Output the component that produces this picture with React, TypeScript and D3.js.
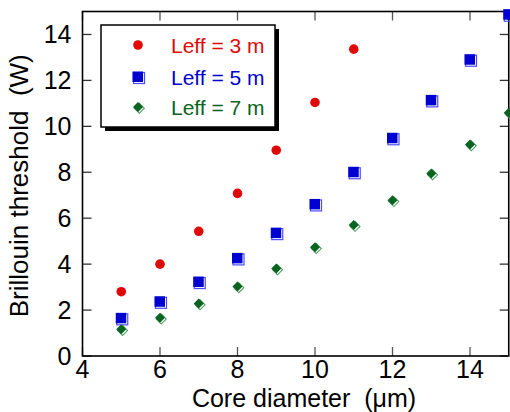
import React from 'react';
import * as d3 from 'd3';

const coreDiameter = [5, 6, 7, 8, 9, 10, 11, 12, 13, 14, 15];
const leff3 = [2.8, 4.0, 5.43, 7.08, 8.96, 11.04, 13.36];
const leff5 = [1.64, 2.36, 3.22, 4.25, 5.35, 6.6, 8.0, 9.48, 11.13, 12.9, 14.86];
const leff7 = [1.17, 1.67, 2.29, 3.03, 3.81, 4.74, 5.7, 6.78, 7.95, 9.21, 10.59];
const xTicks = [4, 6, 8, 10, 12, 14];
const yTicks = [0, 2, 4, 6, 8, 10, 12, 14];
const legendLabels = ['Leff = 3 m', 'Leff = 5 m', 'Leff = 7 m'];

const RED = '#e00808';
const BLUE = '#0000d0';
const GREEN = '#086420';
const FONT = 'Liberation Sans, Arial, sans-serif';

const width = 510;
const height = 412;
const margin = { left: 82.5, right: 1.25, top: 11.5, bottom: 56 };

const Circle = ({ cx, cy }: { cx: number; cy: number }) => (
  <circle cx={cx} cy={cy} r={4.8} fill={RED} />
);

const Square = ({ cx, cy }: { cx: number; cy: number }) => (
  <g>
    <rect x={cx - 4.5} y={cy - 4.5} width={11} height={11} fill="none" stroke="#4d4dff" strokeWidth={1.2} />
    <rect x={cx - 5.5} y={cy - 5.5} width={10.5} height={10.5} fill={BLUE} />
  </g>
);

const Diamond = ({ cx, cy }: { cx: number; cy: number }) => {
  const d = d3.symbol().type(d3.symbolSquare).size(50)() as string;
  return (
    <g>
      <path d={d} transform={`translate(${cx + 1.3},${cy + 1.3}) rotate(45)`} fill="none" stroke="#4a9a5a" strokeWidth={1} />
      <path d={d} transform={`translate(${cx},${cy}) rotate(45)`} fill={GREEN} />
    </g>
  );
};

export default function App() {
  const x = d3.scaleLinear().domain([4, 15]).range([margin.left, width - margin.right]);
  const y = d3.scaleLinear().domain([0, 15]).range([height - margin.bottom, margin.top]);
  const [x0, x1] = x.range();
  const [y0, y1] = y.range();
  const tickLen = 9;

  return (
    <svg width={width} height={height} style={{ position: 'absolute', left: 0, top: 0, background: '#fff' }} fontFamily={FONT}>
      {/* ticks on all four sides */}
      {xTicks.map((t) => (
        <g key={'x' + t} stroke="#555" strokeWidth={1.3}>
          <line x1={x(t)} x2={x(t)} y1={y0} y2={y0 - tickLen} />
          <line x1={x(t)} x2={x(t)} y1={y1} y2={y1 + tickLen} />
        </g>
      ))}
      {yTicks.map((t) => (
        <g key={'y' + t} stroke="#333" strokeWidth={1.3}>
          <line x1={x0} x2={x0 + tickLen} y1={y(t)} y2={y(t)} />
          <line x1={x1} x2={x1 - tickLen} y1={y(t)} y2={y(t)} />
        </g>
      ))}
      <rect x={x0} y={y1} width={x1 - x0} height={y0 - y1} fill="none" stroke="#000" strokeWidth={1.6} />

      {/* tick labels */}
      {xTicks.map((t) => (
        <text key={'xl' + t} x={x(t)} y={y0 + 22} fontSize={25} textAnchor="middle">{t}</text>
      ))}
      {yTicks.map((t) => (
        <text key={'yl' + t} x={x0 - 11} y={y(t)} dy="0.35em" fontSize={25} textAnchor="end">{t}</text>
      ))}

      {/* axis titles */}
      <text x={304} y={407} fontSize={25} textAnchor="middle" style={{ whiteSpace: 'pre' }}>Core diameter  (μm)</text>
      <text transform={`translate(28,${(y0 + y1) / 2 + 2}) rotate(-90)`} fontSize={26} textAnchor="middle" style={{ whiteSpace: 'pre' }}>Brillouin threshold  (W)</text>

      {/* data */}
      {leff3.map((v, i) => <Circle key={'r' + i} cx={x(coreDiameter[i])} cy={y(v)} />)}
      {leff5.map((v, i) => <Square key={'b' + i} cx={x(coreDiameter[i])} cy={y(v)} />)}
      {leff7.map((v, i) => <Diamond key={'g' + i} cx={x(coreDiameter[i])} cy={y(v)} />)}

      {/* legend */}
      <rect x={105} y={29} width={174} height={102} fill="#000" />
      <rect x={101} y={25} width={174} height={102} fill="#fff" stroke="#000" strokeWidth={1.5} />
      <Circle cx={138} cy={45} />
      <Square cx={138} cy={77} />
      <Diamond cx={138} cy={107} />
      {legendLabels.map((l, i) => (
        <text key={l} x={171} y={[53, 85, 115][i]} fontSize={21} fill={[RED, BLUE, GREEN][i]}>{l}</text>
      ))}
    </svg>
  );
}
